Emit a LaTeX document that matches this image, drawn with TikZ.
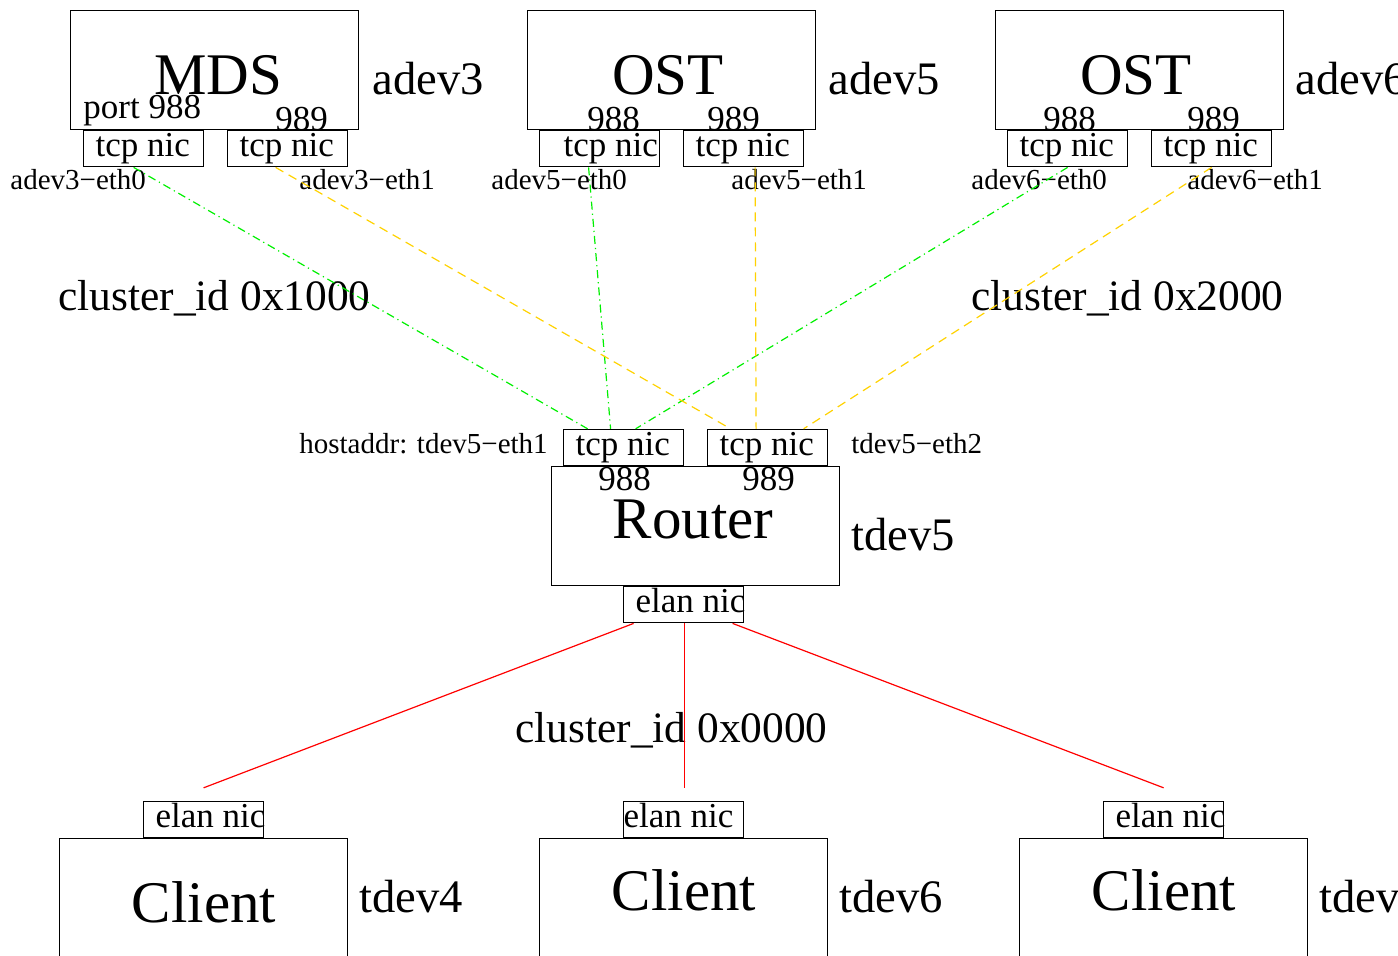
\documentclass[tikz,border=0pt]{standalone}
\usepackage{fontspec}
\setmainfont{Liberation Serif}
\usetikzlibrary{positioning}
\definecolor{tcpgreen}{RGB}{0,240,0}
\definecolor{tcpgold}{RGB}{255,210,0}
\newcommand{\niclabel}[1]{\makebox[48pt][l]{#1}}

\begin{document}
\begin{tikzpicture}[x=0.5pt,y=-0.5pt,
    hostbox/.style={rectangle,draw,line width=0.6pt,anchor=north west,
        minimum width=144pt,minimum height=59.5pt,inner sep=0pt},
    nicbox/.style={rectangle,draw,line width=0.6pt,inner xsep=6pt,inner ysep=0pt,
        text height=13pt,text depth=5pt,
        font=\fontsize{17.5pt}{18pt}\selectfont},
    bigname/.style={anchor=base,inner sep=0pt,font=\fontsize{29.5pt}{30pt}\selectfont},
    hostname/.style={anchor=base west,inner sep=0pt,font=\fontsize{23.3pt}{24pt}\selectfont},
    clustername/.style={anchor=base west,inner sep=0pt,font=\fontsize{21.7pt}{22pt}\selectfont},
    portname/.style={anchor=base west,inner sep=0pt,font=\fontsize{17.5pt}{18pt}\selectfont},
    ethname/.style={anchor=base west,inner sep=0pt,font=\fontsize{14.5pt}{15pt}\selectfont},
    tcpA/.style={tcpgreen,line width=0.6pt,dash pattern=on 4pt off 2pt on 0.6pt off 2pt},
    tcpB/.style={tcpgold,line width=0.6pt,dash pattern=on 4.5pt off 3pt},
    elanlink/.style={red,line width=0.6pt}
]
\useasboundingbox (0,0) rectangle (1398,955);

% hosts
\node[hostbox] (mds) at (70,10) {};
\node[hostbox] (ostA) at (527,10) {};
\node[hostbox] (ostB) at (995,10) {};
\node[hostbox] (router) at (551,466) {};
\node[hostbox] (cliA) at (59,838) {};
\node[hostbox] (cliB) at (539,838) {};
\node[hostbox] (cliC) at (1019,838) {};

% network cards
\node[nicbox, below right=0pt and 6.5pt of mds.south west] (mdsA) {\niclabel{tcp nic}};
\node[nicbox, below right=0pt and 78.5pt of mds.south west] (mdsB) {\niclabel{tcp nic}};
\node[nicbox, below right=0pt and 6pt of ostA.south west] (ostAa) {\niclabel{\hspace*{6pt}tcp nic}};
\node[nicbox, below right=0pt and 78pt of ostA.south west] (ostAb) {\niclabel{tcp nic}};
\node[nicbox, below right=0pt and 6pt of ostB.south west] (ostBa) {\niclabel{tcp nic}};
\node[nicbox, below right=0pt and 78pt of ostB.south west] (ostBb) {\niclabel{tcp nic}};
\node[nicbox, above right=0pt and 6pt of router.north west] (rtA) {\niclabel{tcp nic}};
\node[nicbox, above right=0pt and 78pt of router.north west] (rtB) {\niclabel{tcp nic}};
\node[nicbox, below right=0pt and 36pt of router.south west] (rtE) {\niclabel{elan nic}};
\node[nicbox, above right=0pt and 42pt of cliA.north west] (cliAn) {\niclabel{elan nic}};
\node[nicbox, above right=0pt and 42pt of cliB.north west] (cliBn) {\niclabel{\hspace*{-6pt}elan nic}};
\node[nicbox, above right=0pt and 42pt of cliC.north west] (cliCn) {\niclabel{elan nic}};

% host texts
\node[bigname] (mdsT) at (218,94) {MDS};
\node[bigname] (ostAT) at (668,94) {OST};
\node[bigname] (ostBT) at (1136,94) {OST};
\node[bigname] (routerT) at (693,538) {Router};
\node[bigname] (cliAT) at (204,922) {Client};
\node[bigname] (cliBT) at (684,910) {Client};
\node[bigname] (cliCT) at (1164,910) {Client};

\node[hostname] (mdsH) at (372,94) {adev3};
\node[hostname] (ostAH) at (828,94) {adev5};
\node[hostname] (ostBH) at (1295,94) {adev6};
\node[hostname] (routerH) at (851,550) {tdev5};
\node[hostname] (cliAH) at (359,912) {tdev4};
\node[hostname] (cliBH) at (839,912) {tdev6};
\node[hostname] (cliCH) at (1319,912) {tdev7};

% ports
\node[portname] (mdsP1) at (83,118) {port 988};
\node[portname] (mdsP2) at (275,130) {989};
\node[portname] (ostAP1) at (587,130) {988};
\node[portname] (ostAP2) at (707,130) {989};
\node[portname] (ostBP1) at (1043,130) {988};
\node[portname] (ostBP2) at (1187,130) {989};
\node[portname] (rtP1) at (598,490) {988};
\node[portname] (rtP2) at (742,490) {989};

% interface names
\node[ethname] (mdsE1) at (10,189) {adev3−eth0};
\node[ethname] (mdsE2) at (299,189) {adev3−eth1};
\node[ethname] (ostAE1) at (491,189) {adev5−eth0};
\node[ethname] (ostAE2) at (731,189) {adev5−eth1};
\node[ethname] (ostBE1) at (971,189) {adev6−eth0};
\node[ethname] (ostBE2) at (1187,189) {adev6−eth1};
\node[ethname] (rtE1) at (299,453) {hostaddr: tdev5−eth1};
\node[ethname] (rtE2) at (851,453) {tdev5−eth2};

\node[clustername] (clu1) at (58,310) {cluster\_id 0x1000};
\node[clustername] (clu2) at (971,310) {cluster\_id 0x2000};
\node[clustername] (clu0) at (515,742) {cluster\_id 0x0000};

% links
\draw[tcpA] ([xshift=-5pt]mdsA.south) -- ([xshift=-18pt]rtA.north);
\draw[tcpA] ([xshift=-5.5pt]ostAa.south) -- ([xshift=-6.5pt]rtA.north);
\draw[tcpA] (ostBa.south) -- ([xshift=6pt]rtA.north);
\draw[tcpB] ([xshift=-6pt]mdsB.south) -- ([xshift=-18.5pt]rtB.north);
\draw[tcpB] ([xshift=5.75pt]ostAb.south) -- ([xshift=-5.75pt]rtB.north);
\draw[tcpB] (ostBb.south) -- ([xshift=18pt]rtB.north);
\draw[elanlink] ([xshift=-25pt]rtE.south) -- ([yshift=6.5pt]cliAn.north);
\draw[elanlink] ([xshift=0.25pt]rtE.south) -- ([xshift=0.25pt,yshift=6.5pt]cliBn.north);
\draw[elanlink] ([xshift=24.5pt]rtE.south) -- ([yshift=6.5pt]cliCn.north);
\end{tikzpicture}
\end{document}
